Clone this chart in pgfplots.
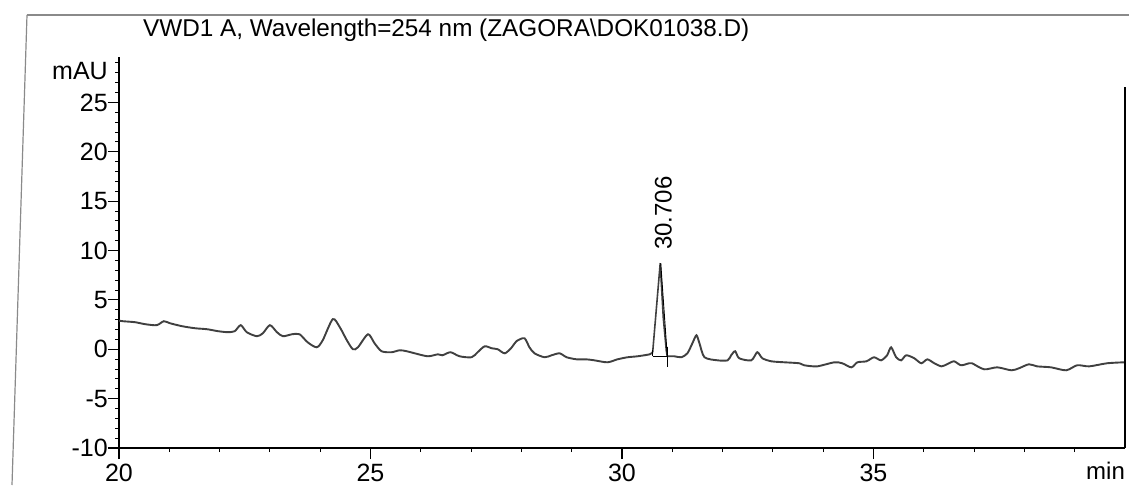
\documentclass[border=0pt]{standalone}
\usepackage{fontspec}
\setmainfont{Liberation Sans}
\usepackage{pgfplots}
\pgfplotsset{compat=1.18}
\definecolor{trace}{HTML}{404040}
\definecolor{scanline}{HTML}{8A8A8A}
\begin{document}
\begin{tikzpicture}[x=1pt,y=1pt]
\path[use as bounding box] (0,0) rectangle (1129,485);
% scan border
\draw[scanline, line width=1.5pt] (27,470) -- (1129,470);
\draw[scanline, line width=1.2pt] (27,470) -- (12,0);
\begin{axis}[
  at={(119pt,37pt)}, anchor=south west,
  scale only axis, width=1006pt, height=391pt,
  xmin=20, xmax=40, ymin=-10, ymax=29.6,
  axis x line=bottom, axis y line=left,
  axis line style={-, black, line width=1.5pt},
  xtick={20,25,30,35}, minor xtick={21,22,23,24,26,27,28,29,31,32,33,34,36,37,38,39},
  ytick={-10,-5,0,5,10,15,20,25},
  minor ytick={-9,-8,-7,-6,-4,-3,-2,-1,1,2,3,4,6,7,8,9,11,12,13,14,16,17,18,19,21,22,23,24,26,27,28,29},
  tick align=outside,
  major tick length=11pt, minor tick length=4pt,
  every tick/.style={black, line width=1.2pt},
  minor tick style={line width=0.9pt},
  /pgf/number format/assume math mode=true,
  ticklabel style={font=\fontsize{25}{29}\selectfont, inner sep=1pt},
  xticklabel style={yshift=-4pt},
  yticklabel style={xshift=1pt},
  clip=false,
]
\addplot[trace, line width=1.9pt, smooth, tension=0.45] coordinates {
(20.00,2.90) (20.08,2.84) (20.32,2.74) (20.52,2.54) (20.75,2.44) (20.89,2.84)
(21.01,2.64) (21.25,2.34) (21.51,2.13) (21.75,2.03) (21.97,1.83) (22.16,1.73)
(22.30,1.83) (22.42,2.44) (22.54,1.73) (22.74,1.32) (22.86,1.62) (23.00,2.44)
(23.14,1.73) (23.26,1.32) (23.44,1.52) (23.59,1.52) (23.75,0.71) (23.93,0.20)
(24.05,0.91) (24.25,3.05) (24.39,2.23) (24.53,0.91) (24.65,0.00) (24.75,0.20)
(24.95,1.52) (25.08,0.61) (25.22,-0.20) (25.42,-0.30) (25.58,-0.10) (25.72,-0.20)
(25.88,-0.41) (26.14,-0.71) (26.34,-0.51) (26.43,-0.61) (26.59,-0.30) (26.77,-0.71)
(27.01,-0.81) (27.13,-0.30) (27.27,0.30) (27.41,0.10) (27.53,0.00) (27.67,-0.41)
(27.81,0.20) (27.90,0.81) (28.06,1.12) (28.16,0.20) (28.26,-0.41) (28.46,-0.81)
(28.60,-0.61) (28.76,-0.41) (28.90,-0.81) (29.10,-1.02) (29.29,-1.02) (29.45,-1.12)
(29.71,-1.32) (29.91,-1.02) (30.11,-0.81) (30.31,-0.71) (30.55,-0.51) (30.61,-0.30)
};
\addplot[trace, line width=1.6pt] coordinates {
(30.61,-0.30) (30.76,8.73) (30.82,3.25) (30.88,-0.10) (30.90,-0.71)
};
\addplot[trace, line width=1.9pt, smooth, tension=0.45] coordinates {
(30.90,-0.71) (31.04,-0.71) (31.18,-0.81)
(31.30,-0.41) (31.40,0.61) (31.48,1.42) (31.54,0.61) (31.64,-0.81) (31.90,-1.12)
(32.10,-1.12) (32.17,-0.61) (32.25,-0.20) (32.33,-0.91) (32.57,-1.12) (32.69,-0.30)
(32.79,-0.91) (32.97,-1.22) (33.23,-1.32) (33.53,-1.42) (33.62,-1.62) (33.88,-1.73)
(34.22,-1.32) (34.38,-1.42) (34.56,-1.83) (34.68,-1.32) (34.86,-1.22) (35.01,-0.81)
(35.15,-1.12) (35.27,-0.61) (35.35,0.20) (35.45,-0.81) (35.55,-1.12) (35.65,-0.61)
(35.81,-0.91) (35.95,-1.42) (36.07,-1.02) (36.21,-1.42) (36.35,-1.73) (36.46,-1.52)
(36.60,-1.22) (36.74,-1.62) (36.90,-1.42) (36.96,-1.42) (37.20,-2.03) (37.46,-1.83)
(37.74,-2.13) (37.89,-1.93) (38.09,-1.52) (38.25,-1.73) (38.53,-1.83) (38.83,-2.13)
(39.05,-1.62) (39.29,-1.73) (39.64,-1.42) (39.98,-1.32)
};
% integration baseline and markers of the 30.706 peak
\addplot[black, line width=0.9pt] coordinates {(30.61,-0.71) (30.90,-0.71)};
\addplot[black, line width=0.9pt] coordinates {(30.61,-0.71) (30.61,-0.10)};
\addplot[black, line width=0.9pt] coordinates {(30.90,0.20) (30.90,-1.83)};
\addplot[black, line width=0.9pt] coordinates {(30.77,8.73) (30.90,-0.71)};
\node[rotate=90, anchor=west, inner sep=0pt, font=\fontsize{24}{28}\selectfont]
  at (axis cs:30.82,10.05) {30.706};
% right frame line
\draw[black, line width=1.4pt] (rel axis cs:1,0) -- (rel axis cs:1,0.923);
\end{axis}
\node[anchor=base west, inner sep=0pt, font=\fontsize{24.3}{28}\selectfont]
  at (143,448) {VWD1 A, Wavelength=254 nm (ZAGORA\textbackslash DOK01038.D)};
\node[anchor=base east, inner sep=0pt, font=\fontsize{25}{29}\selectfont]
  at (108,405) {mAU};
\node[anchor=base west, inner sep=0pt, font=\fontsize{24}{28}\selectfont]
  at (1086,6) {min};
\end{tikzpicture}
\end{document}
